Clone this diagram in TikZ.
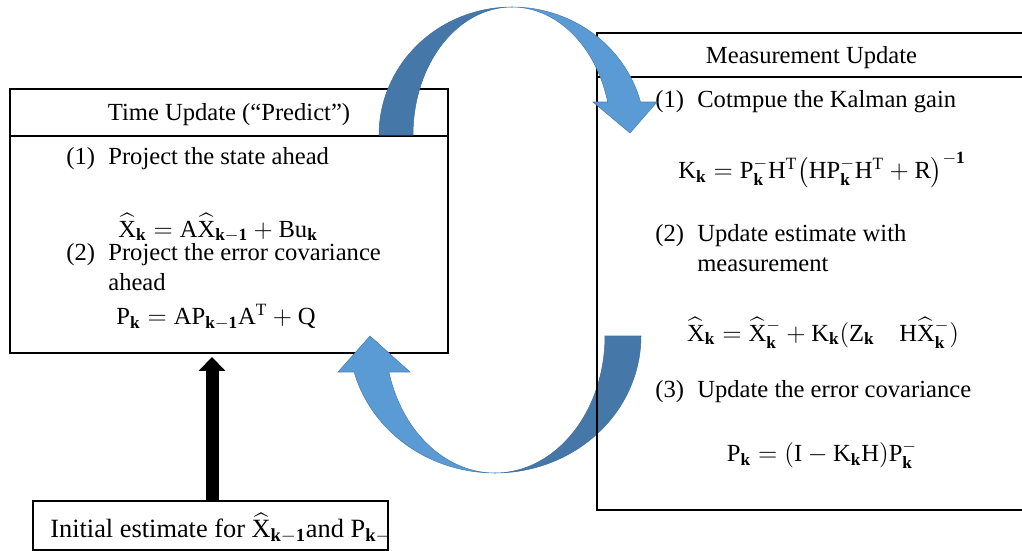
\documentclass[tikz,border=0pt]{standalone}
\usepackage{amsmath}
\usepackage{fontspec}
\setmainfont{Liberation Serif}
\usepackage{xcolor}
\usetikzlibrary{positioning, arrows.meta}

\definecolor{arcdark}{HTML}{4677A9}
\definecolor{arclight}{HTML}{5B9BD5}
\definecolor{arcedge}{HTML}{41719C}

\newcommand{\sk}{\mathbf{k}}
\newcommand{\Xh}{\widehat{\mathrm{X}}}
\newcommand{\stepno}[1]{\makebox[0.84cm][l]{(#1)}}

\begin{document}
\begin{tikzpicture}[x=0.02cm, y=-0.02cm,
        headbox/.style={draw, rectangle, line width=1.1pt, fill=white, inner sep=0pt, text height=12.5pt, text depth=3pt, font=\fontsize{14}{17}\selectfont},
        bodybox/.style={draw, rectangle, line width=1.1pt, inner sep=0pt},
        steptext/.style={anchor=west, align=left, inner sep=0pt, font=\fontsize{14}{17}\selectfont},
        formula/.style={inner sep=0pt, font=\fontsize{14}{17}\selectfont},
        initbox/.style={draw, rectangle, line width=1.1pt, inner sep=0pt, minimum width=7.1cm, minimum height=0.98cm, font=\fontsize{15}{18}\selectfont},
        blackarrow/.style={-{Triangle[width=0.52cm, length=0.28cm]}, line width=0.26cm},
        darkpart/.style={fill=arcdark, draw=arcedge, line width=0.3pt},
        lightpart/.style={fill=arclight, draw=arcedge!70!arclight, line width=0.3pt}
    ]
    \useasboundingbox (0,0) rectangle (1022,551);
    \clip (0,0) rectangle (1022,551);

    % ============ TIME UPDATE ============
    \node[bodybox, minimum width=8.76cm, minimum height=4.34cm] (timebody) at (229,244.5) {};
    \node[headbox, minimum width=8.76cm, minimum height=0.94cm] (timehead) at (229,112.5) {Time Update (“Predict”)};

    \node[steptext] (predstep) at (66,159) {\stepno{1}Project the state ahead};
    \node[formula] (predx) at (218,228) {$\Xh_{\sk} = \mathrm{A}\Xh_{\sk-\mathbf{1}} + \mathrm{Bu}_{\sk}$};
    \node[steptext] (covstep) at (66,267) {\stepno{2}Project the error covariance\\\hspace{0.84cm}ahead};
    \node[formula] (predp) at (216,317) {$\mathrm{P}_{\sk} = \mathrm{AP}_{\sk-\mathbf{1}}\mathrm{A}^{\mathrm{T}} + \mathrm{Q}$};

    % ============ INITIAL ESTIMATE ============
    \node[initbox] (init) at (210.5,525.5) {};
    \node[anchor=west, inner sep=0pt, font=\fontsize{15}{18}\selectfont] (inittext) at (50,528) {Initial estimate for $\Xh_{\sk-\mathbf{1}}$and $\mathrm{P}_{\sk-}$};

    \draw[blackarrow] ([shift={(1.5,1)}]init.north) -- ([shift={(1.5,3)}]init.north |- timebody.south);

    % ============ LOWER ARC ============
    \draw[darkpart] plot[domain=0:90, samples=40] ({495+146*cos(\x)},{336+137*sin(\x)})
        -- plot[domain=90:0, samples=40] ({495+110*cos(\x)},{336+137*sin(\x)}) -- cycle;
    \draw[lightpart] plot[domain=90:164.77, samples=40] ({495+146*cos(\x)},{336+137*sin(\x)})
        -- (338,372) -- (370,336) -- (410,372)
        -- plot[domain=164.77:90, samples=40] ({495+110*cos(\x)},{336+137*sin(\x)}) -- cycle;

    % ============ MEASUREMENT UPDATE ============
    \node[bodybox, minimum width=8.58cm, minimum height=8.66cm] (measbody) at (811.5,293.5) {};
    \node[headbox, fill=none, minimum width=8.58cm, minimum height=0.88cm] (meashead) at (811.5,55) {Measurement Update};

    \node[steptext] (gainstep) at (655,102) {\stepno{1}Cotmpue the Kalman gain};
    \node[formula] (gain) at (822,170) {$\mathrm{K}_{\sk} = \mathrm{P}_{\sk}^{-}\mathrm{H}^{\mathrm{T}}\bigl(\mathrm{HP}_{\sk}^{-}\mathrm{H}^{\mathrm{T}} + \mathrm{R}\bigr)^{-\mathbf{1}}$};
    \node[steptext] (updstep) at (655,248) {\stepno{2}Update estimate with\\\hspace{0.84cm}measurement};
    \node[formula] (updx) at (823,333) {$\Xh_{\sk} = \Xh_{\sk}^{-} + \mathrm{K}_{\sk}(\mathrm{Z}_{\sk}\quad\mathrm{H}\Xh_{\sk}^{-})$};
    \node[steptext] (errstep) at (655,392) {\stepno{3}Update the error covariance};
    \node[formula] (updp) at (822,455) {$\mathrm{P}_{\sk} = (\mathrm{I} - \mathrm{K}_{\sk}\mathrm{H})\mathrm{P}_{\sk}^{-}$};

    % ============ UPPER ARC ============
    \draw[darkpart] plot[domain=180:90, samples=40] ({512+133*cos(\x)},{135-128*sin(\x)})
        -- plot[domain=90:180, samples=40] ({512+99*cos(\x)},{135-128*sin(\x)}) -- cycle;
    \draw[lightpart] plot[domain=90:14.94, samples=40] ({512+133*cos(\x)},{135-128*sin(\x)})
        -- (657,102) -- (630,133) -- (593,102)
        -- plot[domain=14.94:90, samples=40] ({512+99*cos(\x)},{135-128*sin(\x)}) -- cycle;

\end{tikzpicture}
\end{document}
